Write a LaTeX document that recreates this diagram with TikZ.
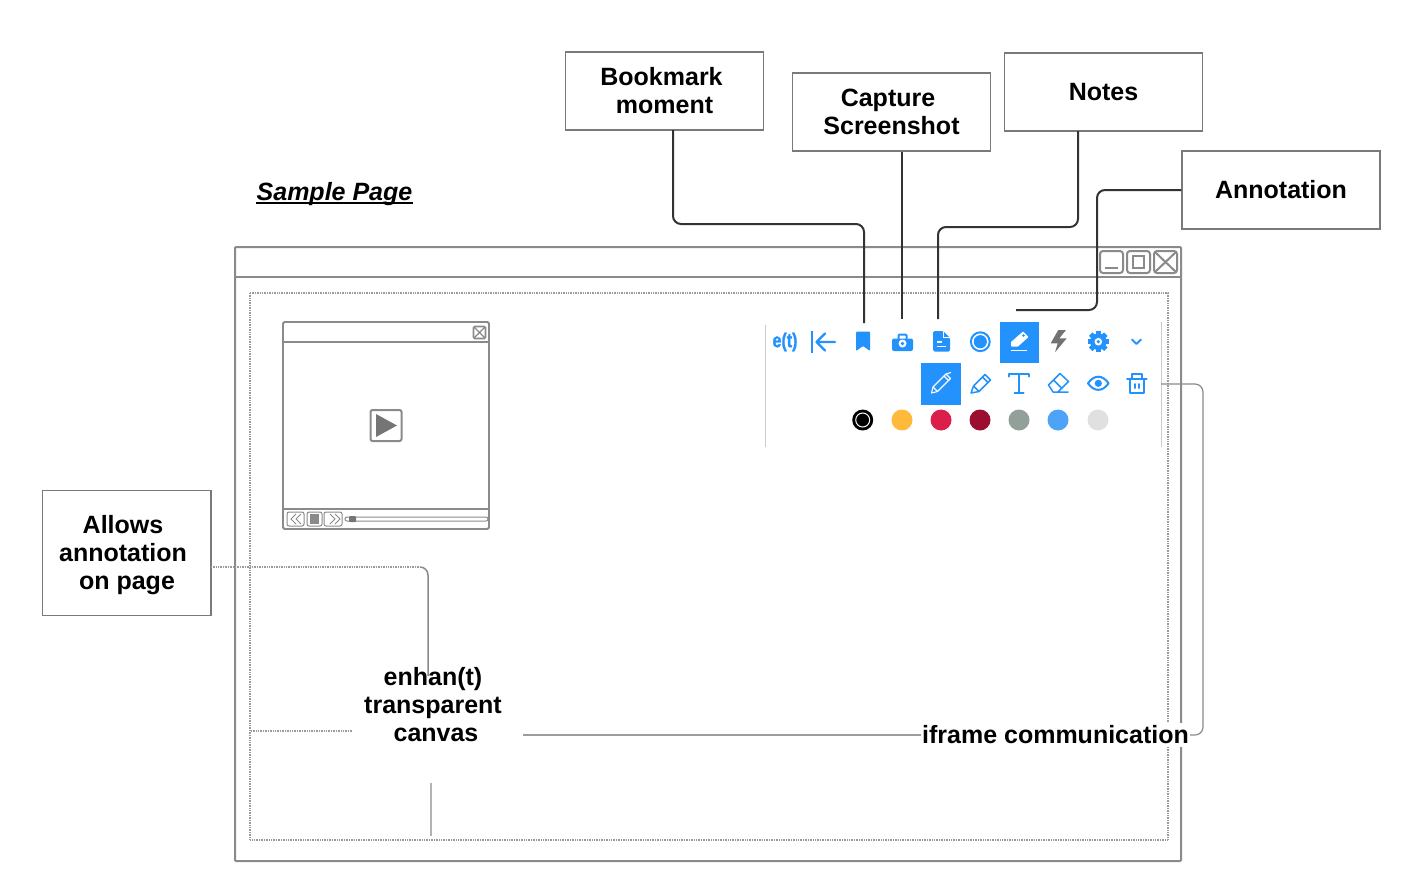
\documentclass[tikz,border=0pt]{standalone}
\usepackage{fontspec}
\setmainfont{Liberation Sans}
\newfontfamily\etfont[FakeBold=1.5]{Liberation Sans Bold}
\usetikzlibrary{calc}
\definecolor{wire}{HTML}{333333}
\definecolor{frameg}{HTML}{8A8A8A}
\definecolor{boxg}{HTML}{7A7A7A}
\definecolor{iconb}{HTML}{2392FC}
\definecolor{dotg}{HTML}{9A9A9A}
\tikzset{
  label box/.style={draw=boxg,line width=1.1pt,fill=white,minimum width=#1,inner sep=0pt,align=center,font=\fontsize{25}{28}\selectfont\bfseries},
  free text/.style={inner sep=0pt,align=center,font=\fontsize{25}{28}\selectfont\bfseries},
  wire line/.style={draw=wire,line width=2pt,rounded corners=8pt},
  thin line/.style={draw=frameg,line width=1.2pt,rounded corners=8pt},
  dot line/.style={draw=dotg,line width=2pt,dash pattern=on 1pt off .7pt},
  frame/.style={draw=frameg,line width=2pt},
  vid/.style={draw=frameg,line width=1.8pt,rounded corners=1.5pt},
  ico/.style={draw=iconb,line width=2pt,line cap=round,line join=round},
  icof/.style={fill=iconb},
  swatch/.style={circle,minimum size=21pt,inner sep=0pt},
}
\begin{document}
\begin{tikzpicture}[x=1pt,y=-1pt]
\useasboundingbox (0,0) rectangle (1402,881);
% window
\node[inner sep=0pt,font=\fontsize{25}{28}\selectfont\bfseries\itshape,anchor=base] (sample) at (334.5,200.5) {Sample Page};
\draw[black,line width=1.5pt] ($(sample.base west)+(0,2.5)$) -- ($(sample.base east)+(0,2.5)$);
\draw[frame,rounded corners=1pt] (235,247) rectangle (1181,861);
\draw[frame] (235,277) -- (1181,277);
\draw[dot line] (250,293) rectangle (1168,840);
\foreach \a/\b in {1100/1123,1127/1150,1154/1177}{\draw[draw=frameg,line width=2pt,rounded corners=3pt] (\a,251) rectangle (\b,273);}
\draw[frameg,line width=2pt] (1105,268) -- (1118,268);
\draw[frameg,line width=2pt] (1133,256) rectangle (1144,268);
\draw[frameg,line width=2pt] (1155,252) -- (1176,272) (1176,252) -- (1155,272);
% video player
\draw[vid] (283,322) rectangle (489,529);
\draw[vid] (283,342) -- (489,342) (283,509) -- (489,509);
\draw[vid] (473.5,326.5) rectangle (485.5,338.5);
\draw[frameg,line width=1.2pt] (474,327) -- (485,338) (485,327) -- (474,338);
\node[draw=frameg,line width=2pt,rounded corners=2pt,minimum size=31pt,inner sep=0pt] (playbtn) at (386,425.5) {};
\fill[frameg!85!black] (376,414) -- (397,425.5) -- (376,437) -- cycle;
\draw[draw=frameg,line width=1pt,rounded corners=2pt] (287,512) rectangle (304,526) (307,512) rectangle (322,526) (324,512) rectangle (342,526);
\draw[frameg,line width=1pt] (296,514) -- (291,519) -- (296,524) (301,514) -- (296,519) -- (301,524) (330,514) -- (335,519) -- (330,524) (335,514) -- (340,519) -- (335,524);
\fill[frameg] (310,514) rectangle (319,524);
\draw[draw=frameg,line width=1pt,rounded corners=2pt] (345,517) rectangle (488,521);
\fill[frameg!85!black,rounded corners=1pt] (349,516) rectangle (356,522);
% toolbar borders
\draw[draw=black!20,line width=1pt] (765,325) -- (765,447) (1161,322) -- (1161,447);
% toolbar row 1
\node[text=iconb,inner sep=0pt,xscale=.8,font=\fontsize{20}{20}\selectfont\etfont] (et) at (785,342) {e(t)};
\fill[iconb] (810.7,331) rectangle (813.2,353);
\draw[ico,line width=2.4pt] (835,342) -- (816.5,342) (825,333.5) -- (816.5,342) -- (825,350.5);
\node[minimum size=2pt,inner sep=0pt] (bmicon) at (863,330) {};
\fill[iconb,rounded corners=1pt] (856,331.5) -- (870,331.5) -- (870,351) -- (863,346) -- (856,351) -- cycle;
\node[minimum size=2pt,inner sep=0pt] (camicon) at (902,330) {};
\fill[iconb,rounded corners=2pt] (892,338.5) rectangle (913,351);
\draw[iconb,line width=2pt,rounded corners=1pt] (898.5,339) -- (898.5,334.5) -- (906.5,334.5) -- (906.5,339);
\fill[white] (902.5,343.5) circle (4);
\fill[iconb] (902.5,343.5) circle (1.8);
\node[minimum size=2pt,inner sep=0pt] (docicon) at (938,330) {};
\fill[iconb,rounded corners=1.5pt] (933,331) -- (943,331) -- (950,338) -- (950,351.5) -- (933,351.5) -- cycle;
\draw[white,line width=1.2pt] (937,342) -- (941.5,342) (937,346.5) -- (946,346.5);
\draw[white,line width=.8pt] (943.5,332) -- (943.5,337.5) -- (949,337.5);
\draw[iconb,line width=2pt] (980.3,341.7) circle (9.4);
\fill[iconb] (980.3,341.7) circle (6.6);
\node[fill=iconb,minimum width=39pt,minimum height=41.5pt,inner sep=0pt] (annot) at (1019.5,342.5) {};
\fill[white,rounded corners=.5pt] (1011,346.5) -- (1011,342) -- (1023,331.5) -- (1028.5,337) -- (1018,346.5) -- cycle;
\fill[iconb] (1023.5,335.5) circle (1.3);
\draw[white,line width=1.4pt] (1010.7,350.5) -- (1027.3,350.5);
\fill[black!55] (1058.3,330) -- (1050.7,343.3) -- (1057.7,343.3) -- (1055,352.3) -- (1066.7,338.3) -- (1059.3,338.3) -- (1066,330) -- cycle;
\foreach \t in {0,45,...,315}{\fill[iconb,rotate around={\t:(1098.3,341.7)}] (1095.8,331) rectangle (1100.8,335);}
\fill[iconb] (1098.3,341.7) circle (8.2);
\fill[white] (1098.3,341.7) circle (3.8);
\fill[iconb] (1098.3,341.7) circle (1.8);
\draw[ico] (1132,339.5) -- (1136.5,344) -- (1141,339.5);
% toolbar row 2
\node[fill=iconb,minimum width=39.5pt,minimum height=42pt,inner sep=0pt] (penbtn) at (941,383.7) {};
\draw[white,line width=1.1pt,line join=round] (931.5,393) -- (933,387) -- (946,374) -- (950.5,378.5) -- (937.5,391.5) -- cycle;
\draw[white,line width=1.1pt] (933,387) -- (937.5,391.5) (944,376) -- (948.5,380.5) (946,374) -- (951,372.5);
\draw[ico,line width=1.5pt] (971,393) -- (973.5,386) -- (985,374.5) -- (990.5,380) -- (979,391.5) -- (971,393) (973.5,386) -- (979,391.5) (982.5,377) -- (988,382.5);
\draw[ico,line width=2pt] (1009,376.5) -- (1009,373.8) -- (1029,373.8) -- (1029,376.5) (1019,373.8) -- (1019,392.5) (1014.5,392.5) -- (1023.5,392.5);
\draw[ico,line width=1.5pt] (1048.5,385) -- (1060,373.5) -- (1068.5,381.5) -- (1058,392) -- (1053,392) -- cycle (1053.5,380) -- (1062,388.5) (1053,392) -- (1068,392);
\draw[ico,line width=2pt] (1088,383.3) .. controls (1094,374.5) and (1102.5,374.5) .. (1108.6,383.3) .. controls (1102.5,392) and (1094,392) .. (1088,383.3) -- cycle;
\fill[iconb] (1098.3,383.3) circle (3.6);
\draw[ico,line width=2pt] (1127,378.5) -- (1146.5,378.5) (1132,378.5) -- (1132,373.5) -- (1141.5,373.5) -- (1141.5,378.5) (1129.5,378.5) -- (1129.5,392.5) -- (1144,392.5) -- (1144,378.5) (1134.5,384) -- (1134.5,388) (1139.3,384) -- (1139.3,388);
\node[draw=none,minimum size=2pt,inner sep=0pt] (trashend) at (1161,384) {};
% toolbar row 3
\node[swatch,fill=black] (c1) at (862.7,420) {};
\draw[white,line width=1pt] (c1.center) circle (7);
\node[swatch,fill={rgb,255:red,255;green,185;blue,59}] (c2) at (902,420) {};
\node[swatch,fill={rgb,255:red,220;green,30;blue,74}] (c3) at (941,420) {};
\node[swatch,fill={rgb,255:red,155;green,14;blue,48}] (c4) at (980,420) {};
\node[swatch,fill={rgb,255:red,147;green,160;blue,154}] (c5) at (1019,420) {};
\node[swatch,fill={rgb,255:red,77;green,163;blue,245}] (c6) at (1058,420) {};
\node[swatch,fill={rgb,255:red,224;green,224;blue,224}] (c7) at (1098,420) {};
% label boxes
\node[label box=198.5pt,minimum height=78pt] (bookmark) at (664.5,91) {Bookmark\hspace*{6pt}\\moment};
\node[label box=198.5pt,minimum height=78pt] (capture) at (891.5,112) {Capture\hspace*{7pt}\\Screenshot};
\node[label box=198.5pt,minimum height=78pt] (notes) at (1103.5,92) {Notes};
\node[label box=198pt,minimum height=78pt] (annotation) at (1281,190) {Annotation};
\node[label box=168.5pt,minimum height=125pt] (allows) at (126.7,553.3) {};
\node[free text] (allowstext) at (125,555.5) {\hspace*{-4pt}Allows\\\hspace*{-4pt}annotation\\\hspace*{4pt}on page};
% free ends
\coordinate (bmout) at (673,130);
\coordinate (ntout) at (1078,131);
\coordinate (anend) at (1016,310);
\coordinate (bmend) at (864,323);
\coordinate (camend) at (902,319);
\coordinate (ntend) at (938,319);
% connectors
\draw[wire line] (bmout) -- (673,224) -- (864,224) -- (bmend);
\draw[wire line] (capture.south) ++(10.5,0) -- (camend);
\draw[wire line] (ntout) -- (1078,227) -- (938,227) -- (ntend);
\draw[wire line] (annotation.west) -- (1097,190) -- (1097,310) -- (anend);
% canvas label and iframe label
\node[free text] (canvas) at (433,704.8) {enhan(t)\\transparent\\\hspace*{6pt}canvas};
\node[free text,fill=white,inner ysep=3pt,inner xsep=1pt] (iframe) at (1055.5,735) {iframe communication};
\coordinate (allowsout) at (211,567);
\coordinate (canvastop) at (428,676);
\draw[dot line] (allowsout) -- (420,567);
\draw[thin line,line width=1.5pt] (420,567) -- (428,567) -- (canvastop);
\coordinate (leftedge) at (251,731);
\coordinate (leftend) at (352,731);
\draw[dot line] (leftedge) -- (leftend);
\coordinate (botA) at (431,783);
\coordinate (botB) at (431,836);
\draw[draw=black!30,line width=1.6pt] (botA) -- (botB);
\coordinate (canvasr) at (523,735);
\draw[draw=frameg!85,line width=1.4pt] (canvasr) -- (iframe.west);
\draw[thin line] (trashend.center) -- (1203,384) -- (1203,735) -- (iframe.east);
\end{tikzpicture}
\end{document}
